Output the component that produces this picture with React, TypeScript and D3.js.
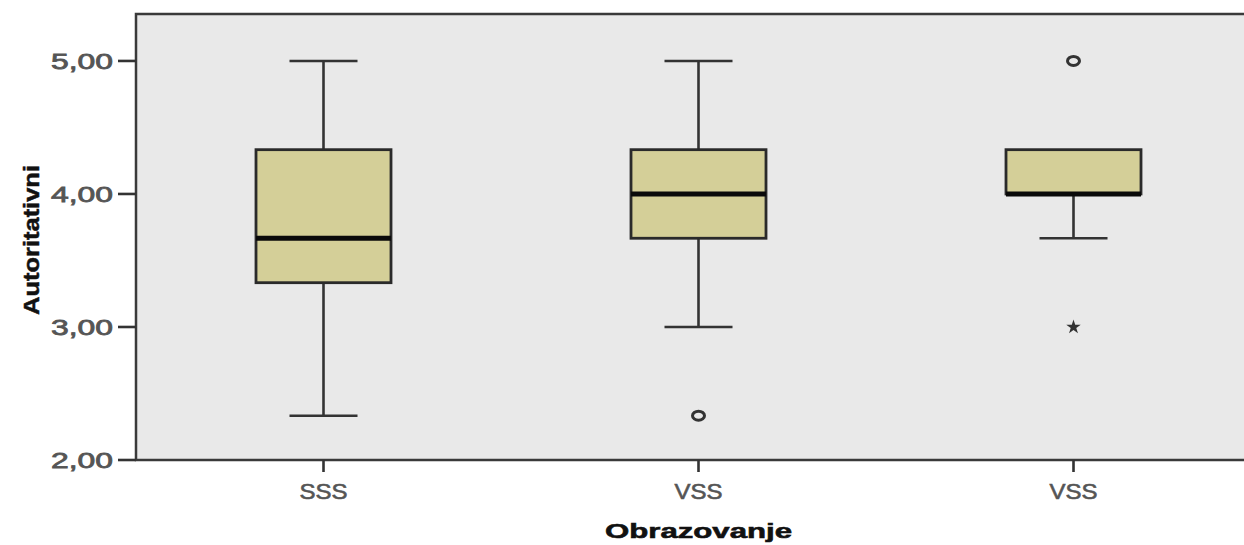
import * as d3 from 'd3';
import { useEffect, useRef } from 'react';

// box statistics per group
const categories = ['SSS', 'VSS', 'VSS'];
const whiskerLow = [2.333, 3.0, 3.667];
const q1 = [3.333, 3.667, 4.0];
const median = [3.667, 4.0, 4.0];
const q3 = [4.333, 4.333, 4.333];
const whiskerHigh = [5.0, 5.0, 4.333];
// outliers (circle) and extremes (star)
const outlierGroup = [1, 2];
const outlierValue = [2.333, 5.0];
const extremeGroup = [2];
const extremeValue = [3.0];
const yTicks = [2, 3, 4, 5];

const App = () => {
    const svgRef = useRef<SVGSVGElement>(null);

    useEffect(() => {
        const width = 1244;
        const height = 545;
        const left = 136;
        const top = 14;
        const bottom = 460;
        const right = 1261;

        const svg = d3.select(svgRef.current);
        svg.selectAll('*').remove();
        svg.attr('width', width).attr('height', height);

        const x = d3
            .scaleBand<number>()
            .domain(categories.map((_, i) => i))
            .range([left, right])
            .padding(0);
        const y = d3.scaleLinear().domain([2, 5.353]).range([bottom, top]);

        const fmt = d3
            .formatLocale({ decimal: ',', thousands: '.', grouping: [3], currency: ['', ''] })
            .format('.2f');

        // plot background
        svg.append('rect')
            .attr('x', left)
            .attr('y', top)
            .attr('width', right - left)
            .attr('height', bottom - top)
            .attr('fill', '#e9e9e9')
            .attr('stroke', '#3a3a3a')
            .attr('stroke-width', 2.5);

        const boxW = 135;
        const capW = 68;
        const lw = 2.6;
        const cx = (i: number) => (x(i) as number) + x.bandwidth() / 2;

        const g = svg.append('g');
        categories.forEach((_, i) => {
            const c = cx(i);
            // whiskers
            if (whiskerHigh[i] > q3[i]) {
                g.append('line').attr('x1', c).attr('x2', c).attr('y1', y(q3[i])).attr('y2', y(whiskerHigh[i]))
                    .attr('stroke', '#333').attr('stroke-width', lw);
                g.append('line').attr('x1', c - capW / 2).attr('x2', c + capW / 2).attr('y1', y(whiskerHigh[i])).attr('y2', y(whiskerHigh[i]))
                    .attr('stroke', '#333').attr('stroke-width', lw);
            }
            if (whiskerLow[i] < q1[i]) {
                g.append('line').attr('x1', c).attr('x2', c).attr('y1', y(q1[i])).attr('y2', y(whiskerLow[i]))
                    .attr('stroke', '#333').attr('stroke-width', lw);
                g.append('line').attr('x1', c - capW / 2).attr('x2', c + capW / 2).attr('y1', y(whiskerLow[i])).attr('y2', y(whiskerLow[i]))
                    .attr('stroke', '#333').attr('stroke-width', lw);
            }
            // box
            g.append('rect')
                .attr('x', c - boxW / 2)
                .attr('y', y(q3[i]))
                .attr('width', boxW)
                .attr('height', y(q1[i]) - y(q3[i]))
                .attr('fill', '#d4cf98')
                .attr('stroke', '#2a2a2a')
                .attr('stroke-width', 2.8);
            // median
            g.append('line')
                .attr('x1', c - boxW / 2)
                .attr('x2', c + boxW / 2)
                .attr('y1', y(median[i]))
                .attr('y2', y(median[i]))
                .attr('stroke', '#0a0a0a')
                .attr('stroke-width', 5);
        });

        // outliers
        outlierGroup.forEach((gi, k) => {
            g.append('ellipse')
                .attr('cx', cx(gi))
                .attr('cy', y(outlierValue[k]))
                .attr('rx', 6)
                .attr('ry', 4.5)
                .attr('fill', 'none')
                .attr('stroke', '#333')
                .attr('stroke-width', 3);
        });
        // extremes
        extremeGroup.forEach((gi, k) => {
            g.append('path')
                .attr('transform', `translate(${cx(gi)},${y(extremeValue[k])})`)
                .attr('d', d3.symbol(d3.symbolStar, 65)())
                .attr('fill', '#333');
        });

        const font = 'Liberation Sans, Arial, sans-serif';

        // Y axis ticks
        const ya = svg.append('g');
        yTicks.forEach((t) => {
            ya.append('line').attr('x1', 118).attr('x2', left).attr('y1', y(t)).attr('y2', y(t))
                .attr('stroke', '#333').attr('stroke-width', lw);
            ya.append('text')
                .attr('x', 113)
                .attr('y', y(t) + 8)
                .attr('text-anchor', 'end')
                .attr('textLength', 62)
                .attr('lengthAdjust', 'spacingAndGlyphs')
                .attr('font-family', font)
                .attr('font-size', 22)
                .attr('fill', '#555')
                .attr('stroke', '#555')
                .attr('stroke-width', 0.8)
                .text(fmt(t));
        });

        // X axis ticks
        const xa = svg.append('g');
        categories.forEach((cat, i) => {
            const c = cx(i);
            xa.append('line').attr('x1', c).attr('x2', c).attr('y1', bottom).attr('y2', 472)
                .attr('stroke', '#333').attr('stroke-width', lw);
            xa.append('text')
                .attr('x', c)
                .attr('y', 499)
                .attr('text-anchor', 'middle')
                .attr('textLength', 48)
                .attr('lengthAdjust', 'spacingAndGlyphs')
                .attr('font-family', font)
                .attr('font-size', 22)
                .attr('fill', '#555')
                .attr('stroke', '#555')
                .attr('stroke-width', 0.6)
                .text(cat);
        });

        // axis titles
        svg.append('text')
            .attr('x', cx(1))
            .attr('y', 538)
            .attr('text-anchor', 'middle')
            .attr('textLength', 187)
            .attr('lengthAdjust', 'spacingAndGlyphs')
            .attr('font-family', font)
            .attr('font-weight', 'bold')
            .attr('font-size', 21)
            .attr('fill', '#111')
            .attr('stroke', '#111')
            .attr('stroke-width', 0.6)
            .text('Obrazovanje');

        svg.append('text')
            .attr('transform', 'translate(39, 240) rotate(-90)')
            .attr('text-anchor', 'middle')
            .attr('textLength', 150)
            .attr('lengthAdjust', 'spacingAndGlyphs')
            .attr('font-family', font)
            .attr('font-weight', 'bold')
            .attr('font-size', 22)
            .attr('fill', '#111')
            .attr('stroke', '#111')
            .attr('stroke-width', 0.5)
            .text('Autoritativni');
    }, []);

    return <svg ref={svgRef} style={{ position: 'absolute', left: 0, top: 0, background: '#fff' }} />;
};

export default App;
